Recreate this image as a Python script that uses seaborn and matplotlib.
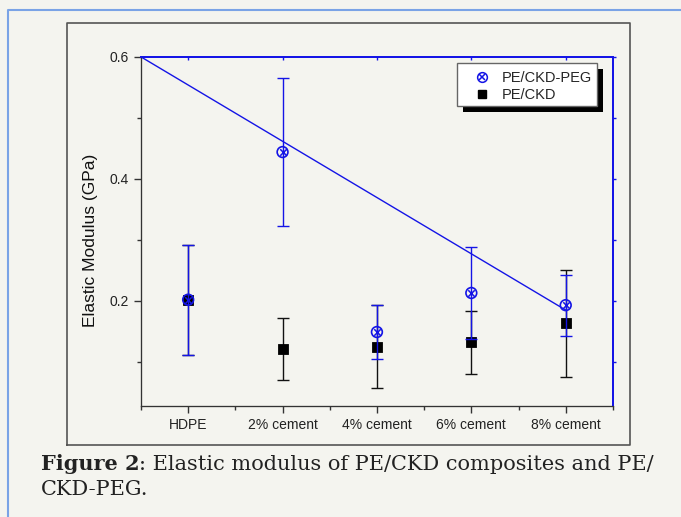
import numpy as np
import pandas as pd
import matplotlib
matplotlib.use('Agg')
import matplotlib.pyplot as plt
import seaborn as sns
from matplotlib.patches import Rectangle
from matplotlib.lines import Line2D

# values
categories = ['HDPE', '2% cement', '4% cement', '6% cement', '8% cement']
peg_mean = [0.202, 0.444, 0.149, 0.213, 0.193]
peg_err = [0.090, 0.121, 0.044, 0.075, 0.050]
ckd_mean = [0.202, 0.121, 0.125, 0.132, 0.163]
ckd_err = [0.090, 0.051, 0.068, 0.052, 0.088]
trend_x = [-0.5, 4.0]
trend_y = [0.600, 0.185]

bg = '#f4f4ef'
blue = '#1414e6'

df = pd.DataFrame({'pos': np.arange(len(categories)), 'cat': categories,
                   'peg': peg_mean, 'peg_err': peg_err,
                   'ckd': ckd_mean, 'ckd_err': ckd_err})

sns.set_style('ticks')
plt.rcParams['font.family'] = ['Liberation Sans', 'DejaVu Sans']

fig = plt.figure(figsize=(6.81, 5.17), dpi=100, facecolor=bg)
ax = fig.add_axes([0.207, 0.215, 0.693, 0.675])
ax.set_facecolor(bg)

# PE/CKD (black squares)
ax.errorbar(df['pos'], df['ckd'], yerr=df['ckd_err'], fmt='none',
            ecolor='#111111', elinewidth=1, capsize=4, capthick=1, zorder=2)
sns.scatterplot(data=df, x='pos', y='ckd', marker='s', s=55, color='black',
                edgecolor='black', ax=ax, zorder=3, legend=False)

# PE/CKD-PEG (blue crossed circles)
ax.errorbar(df['pos'], df['peg'], yerr=df['peg_err'], fmt='none',
            ecolor=blue, elinewidth=1, capsize=4, capthick=1, zorder=4)
sns.scatterplot(data=df, x='pos', y='peg', marker='o', s=60, facecolor='none',
                edgecolor=blue, linewidth=1.2, ax=ax, zorder=5, legend=False)
sns.scatterplot(data=df, x='pos', y='peg', marker='x', s=22, color=blue,
                linewidth=1.1, ax=ax, zorder=5, legend=False)

sns.lineplot(x=trend_x, y=trend_y, color=blue, linewidth=1, ax=ax, zorder=4)

ax.set_xlim(-0.5, 4.5)
ax.set_ylim(0.028, 0.6)
ax.set_xticks(df['pos'])
ax.set_xticklabels(categories, fontsize=10, color='#222222')
ax.set_xticks(np.arange(-0.5, 4.6, 1), minor=True)
ax.set_yticks([0.2, 0.4, 0.6])
ax.set_yticklabels(['0.2', '0.4', '0.6'], fontsize=10, color='#222222')
ax.set_yticks([0.1, 0.3, 0.5], minor=True)
ax.tick_params(axis='both', which='major', direction='out', length=5,
               width=1, color='#333333', right=False, top=False)
ax.tick_params(axis='both', which='minor', direction='out', length=3,
               width=1, color='#333333', right=False, top=False)
ax.set_xlabel('')
ax.set_ylabel('Elastic Modulus (GPa)', fontsize=12.5, color='#111111')
ax.yaxis.set_label_coords(-0.09, 0.473)

# right and top ticks, short and blue
axr = ax.twinx()
axr.set_ylim(ax.get_ylim())
axr.set_yticks([0.2, 0.4, 0.6])
axr.set_yticks([0.1, 0.3, 0.5], minor=True)
axr.tick_params(which='both', direction='out', length=2, width=1, color=blue,
                labelright=False)
axt = ax.twiny()
axt.set_xlim(ax.get_xlim())
axt.set_xticks(df['pos'])
axt.tick_params(which='both', direction='in', length=2, width=1, color=blue,
                labeltop=False)
for a in (ax, axr, axt):
    a.spines['top'].set_color(blue)
    a.spines['right'].set_color(blue)
    a.spines['top'].set_linewidth(1.2)
    a.spines['right'].set_linewidth(1.2)
    a.spines['left'].set_color('#333333')
    a.spines['bottom'].set_color('#333333')

# legend with drop shadow
axt.add_patch(Rectangle((0.682, 0.842), 0.297, 0.124, transform=ax.transAxes,
                        facecolor='black', edgecolor='none', zorder=6, clip_on=False))
axt.add_patch(Rectangle((0.669, 0.860), 0.297, 0.123, transform=ax.transAxes,
                        facecolor='white', edgecolor='#666666', linewidth=1,
                        zorder=7, clip_on=False))
peg_handle = (Line2D([], [], linestyle='none', marker='o', markersize=7,
                     markerfacecolor='none', markeredgecolor=blue, markeredgewidth=1.1),
              Line2D([], [], linestyle='none', marker='x', markersize=4.5,
                     color=blue, markeredgewidth=1.1))
ckd_handle = Line2D([], [], linestyle='none', marker='s', markersize=6, color='black')
leg = axt.legend([peg_handle, ckd_handle], ['PE/CKD-PEG', 'PE/CKD'],
                 loc='upper left', bbox_to_anchor=(0.688, 0.975),
                 bbox_transform=ax.transAxes, frameon=False, fontsize=10.5,
                 handletextpad=0.7, labelspacing=0.2, handlelength=1.4,
                 borderaxespad=0)
leg.set_zorder(8)

# outer frame and page border
frame_c = '#555555'
fl, fr, fb, ft = 0.0984, 0.925, 0.139, 0.9555
fig.add_artist(Line2D([fl, fl, fr, fr, fl], [fb, ft, ft, fb, fb],
                      transform=fig.transFigure, color=frame_c, lw=1.2))
fig.add_artist(Line2D([0.0117, 0.0117, 1.0], [0.0, 0.9807, 0.9807],
                      transform=fig.transFigure, color='#7aa3e6', lw=1.5))

# caption
renderer = fig.canvas.get_renderer()
t1 = fig.text(0.060, 0.090, 'Figure 2', fontsize=15, fontweight='bold',
              family='DejaVu Serif', color='#222222', va='baseline')
bb = t1.get_window_extent(renderer=renderer)
x2 = bb.x1 / fig.bbox.width
fig.text(x2, 0.090, ': Elastic modulus of PE/CKD composites and PE/', fontsize=15,
         family='DejaVu Serif', color='#222222', va='baseline')
fig.text(0.060, 0.042, 'CKD-PEG.', fontsize=15, family='DejaVu Serif',
         color='#222222', va='baseline')

fig.savefig('out.png', dpi=100, facecolor=bg)
